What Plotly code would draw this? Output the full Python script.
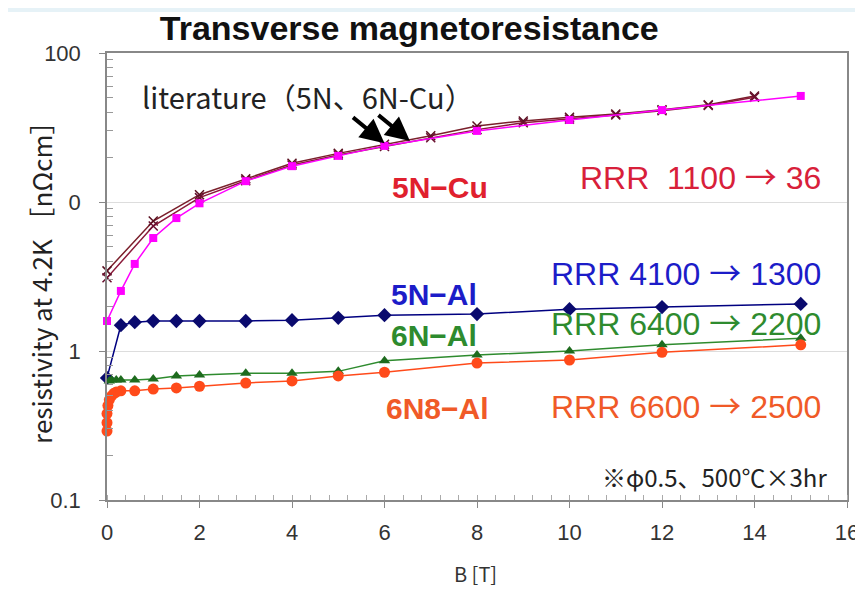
import plotly.graph_objects as go

# B [T] and resistivity [nOhm cm]
b_cu = [0, 0.3, 0.6, 1, 1.5, 2, 3, 4, 5, 6, 8, 10, 12, 15]
rho_cu = [1.59, 2.53, 3.84, 5.73, 7.8, 9.8, 13.8, 17.4, 20.4, 23.8, 30, 35.5, 41.4, 51.5]

b_lit = [0, 1, 2, 3, 4, 5, 6, 7, 8, 9, 10, 11, 12, 13, 14]
rho_lit_5n = [3.45, 7.45, 11.2, 14.3, 18.2, 21.2, 24.4, 27.8, 32.4, 35.0, 37.0, 39.0, 41.6, 45.0, 51.5]
rho_lit_6n = [3.1, 6.9, 10.7, 13.9, 17.7, 20.7, 23.6, 27.0, 30.6, 34.0, 36.0, 38.4, 41.0, 44.4, 50.5]

b_al5 = [0, 0.3, 0.6, 1, 1.5, 2, 3, 4, 5, 6, 8, 10, 12, 15]
rho_al5 = [0.66, 1.49, 1.56, 1.59, 1.59, 1.59, 1.59, 1.61, 1.67, 1.74, 1.77, 1.91, 1.97, 2.07]

b_al6 = [0.05, 0.1, 0.2, 0.3, 0.6, 1, 1.5, 2, 3, 4, 5, 6, 8, 10, 12, 15]
rho_al6 = [0.63, 0.64, 0.64, 0.64, 0.64, 0.65, 0.68, 0.69, 0.71, 0.71, 0.73, 0.86, 0.94, 1.0, 1.1, 1.22]

b_al68 = [0, 0, 0, 0.02, 0.05, 0.1, 0.15, 0.2, 0.3, 0.6, 1, 1.5, 2, 3, 4, 5, 6, 8, 10, 12, 15]
rho_al68 = [0.29, 0.33, 0.38, 0.43, 0.47, 0.5, 0.52, 0.53, 0.54, 0.54, 0.555, 0.565, 0.58, 0.61, 0.63, 0.68, 0.72, 0.83, 0.87, 0.98, 1.1]

y_tickvals = [0.1, 1, 10, 100]
y_ticktext = ["0.1", "1", "0", "100"]
y_minor = [0.2, 0.3, 0.4, 0.5, 0.6, 0.7, 0.8, 0.9, 2, 3, 4, 5, 6, 7, 8, 9, 20, 30, 40, 50, 60, 70, 80, 90]

JP = "Noto Sans CJK JP"
AR = "Liberation Sans, Arial"
NARROW = "Liberation Sans Narrow, Arial Narrow, Liberation Sans"
ARROW = '<span style="font-family:Noto Sans CJK JP">→</span>'

fig = go.Figure()

fig.add_trace(go.Scatter(x=b_lit, y=rho_lit_5n, mode="lines+markers", cliponaxis=False,
                         line=dict(color="#7a1f2b", width=1.5),
                         marker=dict(symbol="x-thin", size=9, line=dict(color="#5a1020", width=1.5))))
fig.add_trace(go.Scatter(x=b_lit, y=rho_lit_6n, mode="lines+markers", cliponaxis=False,
                         line=dict(color="#8b1a3a", width=1.5),
                         marker=dict(symbol="x-thin", size=9, line=dict(color="#6a1030", width=1.5))))
fig.add_trace(go.Scatter(x=b_cu, y=rho_cu, mode="lines+markers", cliponaxis=False,
                         line=dict(color="#ff00ff", width=1.5),
                         marker=dict(symbol="square", size=8, color="#ff00ff")))
fig.add_trace(go.Scatter(x=b_al5, y=rho_al5, mode="lines+markers", cliponaxis=False,
                         line=dict(color="#000080", width=1.5),
                         marker=dict(symbol="diamond", size=11, color="#0a0a6e")))
fig.add_trace(go.Scatter(x=b_al6, y=rho_al6, mode="lines+markers", cliponaxis=False,
                         line=dict(color="#2e8b2e", width=1.5),
                         marker=dict(symbol="triangle-up", size=10, color="#1e6b1e")))
fig.add_trace(go.Scatter(x=b_al68, y=rho_al68, mode="lines+markers", cliponaxis=False,
                         line=dict(color="#ff4a1a", width=1.5),
                         marker=dict(symbol="circle", size=11, color="#ff4a1a")))

def label(text, x, logy, color, size=30, anchor="center", family=AR, bold=True):
    fig.add_annotation(x=x, y=logy, text=f"<b>{text}</b>" if bold else text, showarrow=False,
                       xanchor=anchor, yanchor="middle",
                       font=dict(family=family, size=size, color=color))

label("literature（5N、6N-Cu）", 0.72, 1.711, "#222222", size=29, anchor="left", family=JP, bold=False)
label("5N−Cu", 7.2, 1.094, "#e0202e")
label(f"RRR  1100 {ARROW} 36", 15.48, 1.181, "#d8203a", size=32, anchor="right", bold=False)
label("5N−Al", 7.08, 0.376, "#1c1cc8")
label(f"RRR 4100 {ARROW} 1300", 15.48, 0.537, "#1c1cc8", size=32, anchor="right", bold=False)
label("6N−Al", 7.08, 0.107, "#2e8b2e")
label(f"RRR 6400 {ARROW} 2200", 15.48, 0.201, "#2e8b2e", size=32, anchor="right", bold=False)
label("6N8−Al", 7.15, -0.383, "#f05a28")
label(f"RRR 6600 {ARROW} 2500", 15.48, -0.356, "#f05a28", size=32, anchor="right", bold=False)
label("※φ0.5、500℃×3hr", 15.6, -0.839, "#222222", size=24, anchor="right", family=JP, bold=False)

for hx, hy in [(6.0, 1.395), (6.55, 1.41)]:
    fig.add_annotation(x=hx, y=hy, ax=-33, ay=-27, text="", showarrow=True,
                       arrowhead=2, arrowsize=1.2, arrowwidth=4, arrowcolor="#000000")

# axis titles
fig.add_annotation(xref="paper", yref="paper", x=-0.09, y=0.5, text="resistivity at 4.2K ［nΩcm］",
                   textangle=-90, showarrow=False, xanchor="center", yanchor="middle",
                   font=dict(family=JP, size=26, color="#222222"))
fig.add_annotation(xref="paper", yref="paper", x=0.498, y=-0.165, text="B [T]",
                   showarrow=False, xanchor="center", yanchor="middle",
                   font=dict(family=JP, size=20, color="#333333"))

# white page with a light blue frame
fig.add_shape(type="rect", xref="paper", yref="paper", x0=-0.14, x1=1.012, y0=-0.23, y1=1.092,
              fillcolor="white", line=dict(width=0), layer="below")

fig.update_xaxes(range=[0, 16], dtick=2, showgrid=False, zeroline=False,
                 showline=True, linecolor="#888888", linewidth=1.5, mirror=True,
                 ticks="outside", ticklen=6, tickcolor="#888888", ticklabelstandoff=6,
                 minor=dict(dtick=0.4, ticks="inside", ticklen=5, tickcolor="#aaaaaa"),
                 tickfont=dict(family=NARROW, size=22, color="#333333"))
fig.update_yaxes(type="log", range=[-1, 2], tickvals=y_tickvals, ticktext=y_ticktext,
                 showgrid=True, gridcolor="#dddddd", zeroline=False,
                 showline=True, linecolor="#888888", linewidth=1.5, mirror=True,
                 ticks="outside", ticklen=6, tickcolor="#888888", ticklabelstandoff=14,
                 minor=dict(tickvals=y_minor, ticks="inside", ticklen=6, tickcolor="#999999", showgrid=False),
                 tickfont=dict(family=NARROW, size=22, color="#333333"))

fig.update_layout(
    width=863, height=592,
    paper_bgcolor="#e6f2f7", plot_bgcolor="white",
    margin=dict(l=99, r=15, t=45, b=100),
    showlegend=False,
    title=dict(text="<b>Transverse magnetoresistance</b>", x=0.465, xanchor="center", y=0.966,
               yanchor="middle", font=dict(family=AR, size=34, color="#111111")),
)

fig.write_html("out.html")
